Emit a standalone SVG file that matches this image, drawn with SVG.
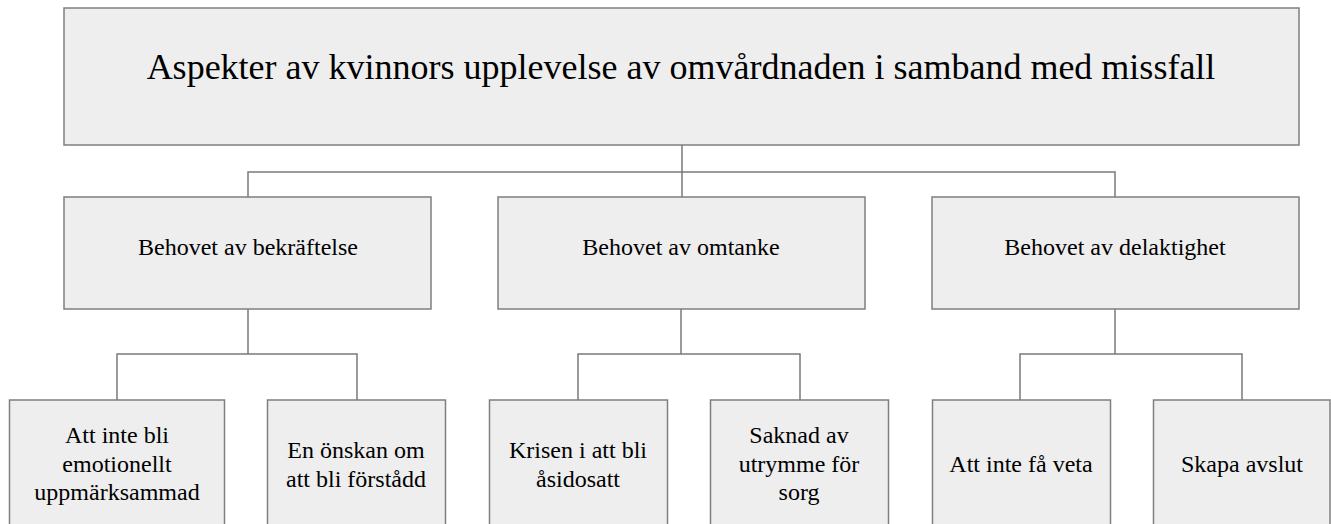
<svg xmlns="http://www.w3.org/2000/svg" width="1331" height="524" viewBox="0 0 1331 524">
<style>
.box{fill:#eeeeee;stroke:#7f7f7f;stroke-width:1.5}
text{font-family:'Liberation Serif','Times New Roman',Times,serif;fill:#000;text-anchor:middle}
.title{font-size:36px}
.lbl{font-size:24px}
.conn{fill:none;stroke:#7a7a7a;stroke-width:1.5}
</style>
<rect width="1331" height="524" fill="#ffffff"/>
<g id="connectors">
<path class="conn" d="M682 145V172M248 197V172H1115V197M682 172V197"/>
<path class="conn" d="M248 309V354M117 400V354H357V400"/>
<path class="conn" d="M681 309V354M578 400V354H800V400"/>
<path class="conn" d="M1115 309V354M1020 400V354H1242V400"/>
</g>
<g id="root">
<rect class="box" x="64" y="8" width="1235" height="137"/>
<text class="title" font-family="Liberation Serif" x="681" y="79">Aspekter av kvinnors upplevelse av omvårdnaden i samband med missfall</text>
</g>
<g id="n-bekraftelse" font-family="Liberation Serif">
<rect class="box" x="64" y="197" width="367" height="112"/>
<text class="lbl" x="248" y="255">Behovet av bekräftelse</text>
</g>
<g id="n-omtanke">
<rect class="box" x="498" y="197" width="367" height="112"/>
<text class="lbl" x="681" y="255">Behovet av omtanke</text>
</g>
<g id="n-delaktighet">
<rect class="box" x="932" y="197" width="367" height="112"/>
<text class="lbl" x="1115" y="255">Behovet av delaktighet</text>
</g>
<g id="c1">
<rect class="box" x="9.5" y="400" width="215" height="140"/>
<text class="lbl" x="117" y="443">Att inte bli</text>
<text class="lbl" x="117" y="472">emotionellt</text>
<text class="lbl" x="117" y="500">uppmärksammad</text>
</g>
<g id="c2">
<rect class="box" x="267.5" y="400" width="178" height="140"/>
<text class="lbl" x="356" y="458">En önskan om</text>
<text class="lbl" x="356" y="487">att bli förstådd</text>
</g>
<g id="c3">
<rect class="box" x="489.5" y="400" width="178" height="140"/>
<text class="lbl" x="578" y="458">Krisen i att bli</text>
<text class="lbl" x="578" y="487">åsidosatt</text>
</g>
<g id="c4">
<rect class="box" x="710.5" y="400" width="178" height="140"/>
<text class="lbl" x="799" y="443">Saknad av</text>
<text class="lbl" x="799" y="472">utrymme för</text>
<text class="lbl" x="799" y="500">sorg</text>
</g>
<g id="c5">
<rect class="box" x="932.5" y="400" width="178" height="140"/>
<text class="lbl" x="1021" y="472">Att inte få veta</text>
</g>
<g id="c6">
<rect class="box" x="1153.5" y="400" width="176.5" height="140"/>
<text class="lbl" x="1242" y="472">Skapa avslut</text>
</g>
</svg>
